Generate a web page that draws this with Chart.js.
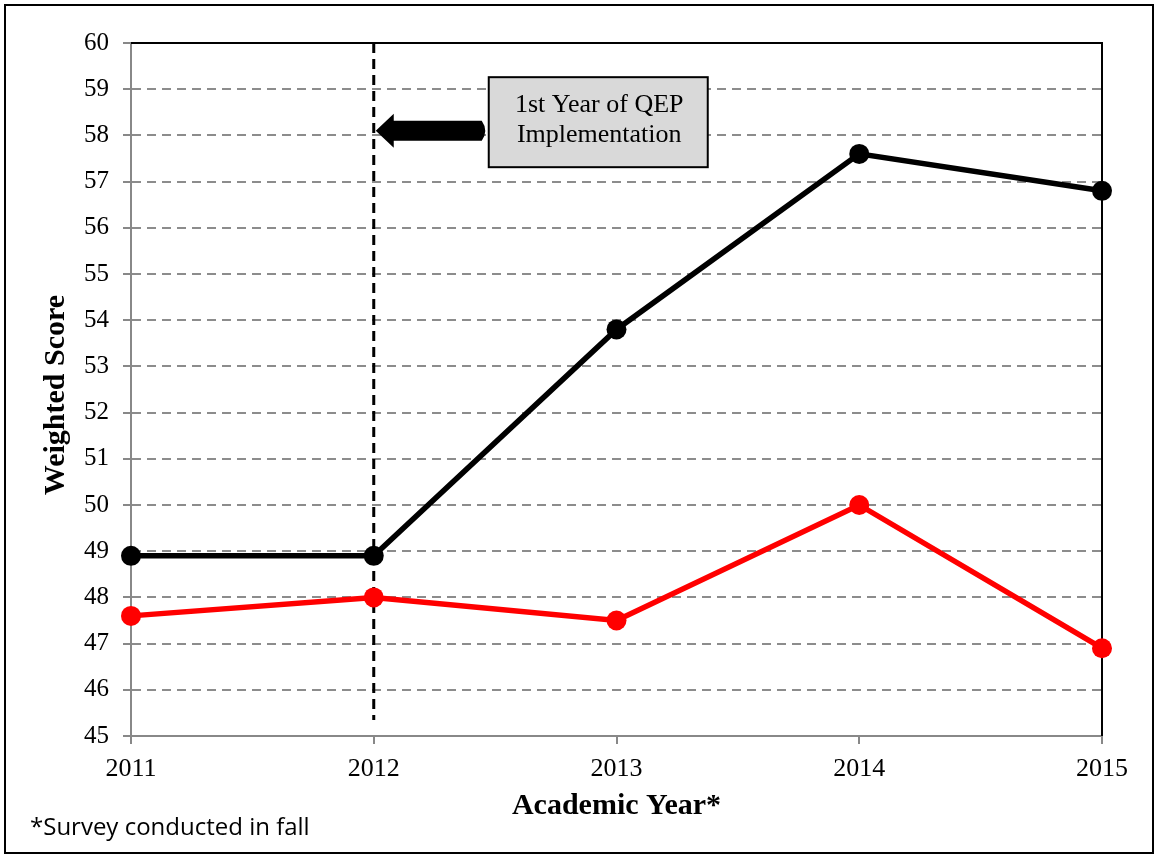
<!DOCTYPE html>
<html>
<head>
<meta charset="utf-8">
<script src="https://cdn.jsdelivr.net/npm/chart.js@4.4.0/dist/chart.umd.min.js"></script>
<style>
  html, body { margin: 0; padding: 0; background: #fff; }
  #wrap { width: 1156px; height: 855px; position: relative; }
</style>
</head>
<body>
<div id="wrap"><canvas id="chart" width="1156" height="855"></canvas></div>
<script>
// chart data
const years = ['2011', '2012', '2013', '2014', '2015'];
const blackScores = [48.9, 48.9, 53.8, 57.6, 56.8];
const redScores = [47.6, 48.0, 47.5, 50.0, 46.9];
const yMin = 45;
const yMax = 60;
const qepYear = '2012';
const noteLines = ['1st Year of QEP', 'Implementation'];

const serif = '"Liberation Serif", "Times New Roman", serif';

// extra drawing: frame, plot border, QEP marker, titles, footnote
const decor = {
  id: 'decor',
  beforeDatasetsDraw(chart) {
    const ctx = chart.ctx;
    const x = chart.scales.x;
    const area = chart.chartArea;
    ctx.save();
    // top and right border of plot
    ctx.strokeStyle = '#000';
    ctx.lineWidth = 2;
    ctx.beginPath();
    ctx.moveTo(area.left, area.top);
    ctx.lineTo(area.right, area.top);
    ctx.lineTo(area.right, area.bottom);
    ctx.stroke();

    // vertical dashed line at first QEP year
    const qx = x.getPixelForValue(years.indexOf(qepYear));
    ctx.setLineDash([10, 6]);
    ctx.lineWidth = 3;
    ctx.beginPath();
    ctx.moveTo(qx, area.top);
    ctx.lineTo(qx, area.bottom - 16);
    ctx.stroke();
    ctx.restore();
  },
  afterDraw(chart) {
    const ctx = chart.ctx;
    const x = chart.scales.x;
    const y = chart.scales.y;
    const area = chart.chartArea;
    const qx = x.getPixelForValue(years.indexOf(qepYear));
    ctx.save();

    // arrow pointing at the QEP line
    const ay = y.getPixelForValue(58.1);
    ctx.fillStyle = '#000';
    ctx.beginPath();
    ctx.moveTo(qx + 2, ay);
    ctx.lineTo(qx + 20, ay - 17);
    ctx.lineTo(qx + 20, ay - 10);
    ctx.lineTo(qx + 108, ay - 10);
    ctx.quadraticCurveTo(qx + 115, ay, qx + 108, ay + 10);
    ctx.lineTo(qx + 20, ay + 10);
    ctx.lineTo(qx + 20, ay + 17);
    ctx.closePath();
    ctx.fill();

    // note box
    const bx = qx + 115, bw = 219;
    const by = y.getPixelForValue(59.26), bh = 90;
    ctx.fillStyle = '#d9d9d9';
    ctx.fillRect(bx, by, bw, bh);
    ctx.strokeStyle = '#000';
    ctx.lineWidth = 2;
    ctx.strokeRect(bx, by, bw, bh);
    ctx.fillStyle = '#000';
    ctx.font = '26px ' + serif;
    ctx.textAlign = 'center';
    ctx.textBaseline = 'middle';
    ctx.fillText(noteLines[0], bx + bw / 2 + 1, by + 28);
    ctx.fillText(noteLines[1], bx + bw / 2 + 1, by + 58);

    // axis titles
    ctx.font = 'bold 30px ' + serif;
    ctx.fillText('Academic Year*', (area.left + area.right) / 2, 806);
    ctx.save();
    ctx.translate(56, 395);
    ctx.rotate(-Math.PI / 2);
    ctx.fillText('Weighted Score', 0, 0);
    ctx.restore();

    // footnote
    ctx.font = '24px "Open Sans", "Noto Sans", sans-serif';
    ctx.textAlign = 'left';
    ctx.fillText('*Survey conducted in fall', 30, 828);

    // outer frame
    ctx.strokeStyle = '#000';
    ctx.lineWidth = 2;
    ctx.strokeRect(5, 5, 1148, 848);
    ctx.restore();
  }
};

new Chart(document.getElementById('chart'), {
  type: 'line',
  data: {
    labels: years,
    datasets: [
      {
        label: 'Black',
        data: blackScores,
        borderColor: '#000',
        backgroundColor: '#000',
        borderWidth: 5.5,
        pointRadius: 10,
        pointBorderWidth: 0,
        tension: 0
      },
      {
        label: 'Red',
        data: redScores,
        borderColor: '#ff0000',
        backgroundColor: '#ff0000',
        borderWidth: 5.5,
        pointRadius: 10,
        pointBorderWidth: 0,
        tension: 0
      }
    ]
  },
  options: {
    responsive: false,
    animation: false,
    layout: { padding: { left: 0, top: 43, right: 54, bottom: 0 } },
    plugins: {
      legend: { display: false },
      tooltip: { enabled: false }
    },
    scales: {
      x: {
        offset: false,
        afterFit(scale) { scale.height = 119; },
        border: { color: '#888', width: 2 },
        grid: {
          drawOnChartArea: false,
          drawTicks: true,
          tickLength: 8,
          color: '#888',
          lineWidth: 2
        },
        ticks: {
          color: '#000',
          padding: 10,
          maxRotation: 0,
          font: { family: serif, size: 26 }
        }
      },
      y: {
        min: yMin,
        max: yMax,
        afterFit(scale) { scale.width = 131; },
        border: { color: '#888', width: 2, dash: [9, 6] },
        grid: {
          color: ctx => (ctx.tick && (ctx.tick.value === yMin || ctx.tick.value === yMax)) ? 'rgba(0,0,0,0)' : '#8c8c8c',
          lineWidth: 2,
          tickLength: 8,
          tickColor: '#888',
          tickWidth: 2,
          tickBorderDash: []
        },
        ticks: {
          stepSize: 1,
          color: '#000',
          padding: 14,
          font: { family: serif, size: 25 }
        }
      }
    }
  },
  plugins: [decor]
});
</script>
</body>
</html>
